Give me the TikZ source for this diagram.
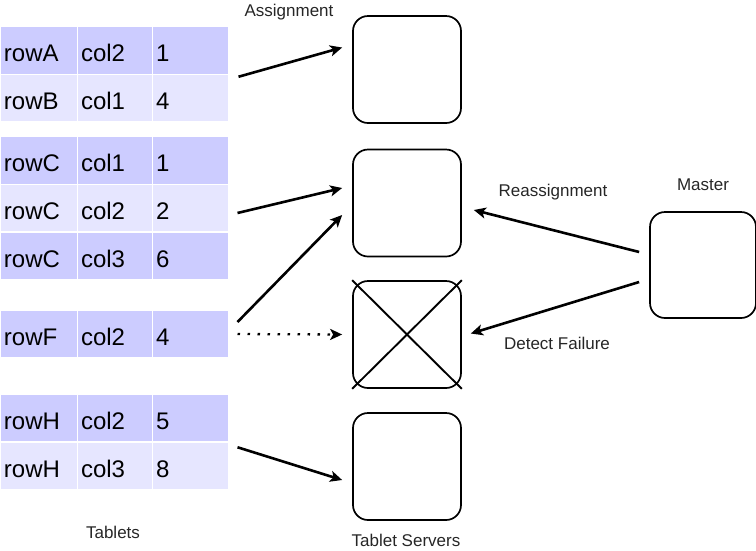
\documentclass[tikz,border=0pt]{standalone}
\usepackage{fontspec}
\setmainfont{Liberation Sans}
\usetikzlibrary{arrows.meta}
\definecolor{darkrow}{HTML}{CCCCFF}
\definecolor{lightrow}{HTML}{E6E6FF}
\begin{document}
\begin{tikzpicture}[x=1pt,y=-1pt,
    cell/.style={draw=white, line width=1pt, minimum height=47.5pt, inner xsep=4pt,
      text height=22pt, text depth=0pt, align=left, font=\fontsize{24}{28}\selectfont},
    keycell/.style={cell, text width=69pt},
    colcell/.style={cell, text width=67pt},
    valcell/.style={cell, text width=68pt},
    dk/.style={fill=darkrow},
    lt/.style={fill=lightrow},
    server/.style={draw, line width=1.7pt, rounded corners=15pt, minimum width=108pt, minimum height=107pt},
    lbl/.style={font=\fontsize{17}{20}\selectfont, text=black!85},
    conn/.style={line width=2.6pt, -{Stealth[length=12pt,width=11pt,inset=3pt]}}]
            \useasboundingbox (0,0) rectangle (756,550);
            % tablets
            \node [keycell,dk] (a1) at (38.5,50.5) {rowA};
            \node [colcell,dk] (a2) at (114.5,50.5) {col2};
            \node [valcell,dk] (a3) at (190,50.5) {1};
            \node [keycell,lt] (b1) at (38.5,98) {rowB};
            \node [colcell,lt] (b2) at (114.5,98) {col1};
            \node [valcell,lt] (b3) at (190,98) {4};
            \node [keycell,dk] (c1) at (38.5,160.5) {rowC};
            \node [colcell,dk] (c2) at (114.5,160.5) {col1};
            \node [valcell,dk] (c3) at (190,160.5) {1};
            \node [keycell,lt] (d1) at (38.5,208) {rowC};
            \node [colcell,lt] (d2) at (114.5,208) {col2};
            \node [valcell,lt] (d3) at (190,208) {2};
            \node [keycell,dk] (e1) at (38.5,256) {rowC};
            \node [colcell,dk] (e2) at (114.5,256) {col3};
            \node [valcell,dk] (e3) at (190,256) {6};
            \node [keycell,dk] (f1) at (38.5,334) {rowF};
            \node [colcell,dk] (f2) at (114.5,334) {col2};
            \node [valcell,dk] (f3) at (190,334) {4};
            \node [keycell,dk] (g1) at (38.5,418) {rowH};
            \node [colcell,dk] (g2) at (114.5,418) {col2};
            \node [valcell,dk] (g3) at (190,418) {5};
            \node [keycell,lt] (h1) at (38.5,466) {rowH};
            \node [colcell,lt] (h2) at (114.5,466) {col3};
            \node [valcell,lt] (h3) at (190,466) {8};
            % servers and master
            \node [server] (s1) at (407,69.5) {};
            \node [server] (s2) at (407,203) {};
            \node [server] (s3) at (407,334.5) {};
            \node [server] (s4) at (407,466.5) {};
            \node [server, minimum width=106pt, minimum height=106pt] (master) at (703,265) {};
            \draw [line width=1.9pt] (s3.north west) -- (s3.south east);
            \draw [line width=1.9pt] (s3.south west) -- (s3.north east);
            % labels
            \node [lbl] (asg) at (289,12) {Assignment};
            \node [lbl] (reasg) at (553,192) {Reassignment};
            \node [lbl] (fail) at (557,343) {Detect Failure};
            \node [lbl] (mlbl) at (703,185) {Master};
            \node [lbl] (tlbl) at (113,532) {Tablets};
            \node [lbl] (slbl) at (406,540) {Tablet Servers};
            % arrows
            \draw [conn] ([xshift=10pt,yshift=-3pt]b3.north east) -- ([xshift=-10pt,yshift=22pt]s1.west);
            \draw [conn] ([xshift=9pt,yshift=-5pt]d3.east) -- ([xshift=-10pt,yshift=15pt]s2.west);
            \draw [conn] ([xshift=9pt,yshift=12pt]f3.east) -- ([xshift=-10pt,yshift=-12pt]s2.west);
            \draw [conn, line width=2.3pt, dash pattern=on 2.5pt off 7.5pt] ([xshift=9pt]f3.east) -- ([xshift=-10pt]s3.west);
            \draw [conn] ([xshift=9pt,yshift=-5pt]g3.south east) -- ([xshift=-10pt,yshift=-13.5pt]s4.west);
            \draw [conn] ([xshift=-10pt,yshift=13pt]master.west) -- ([xshift=12pt,yshift=-7pt]s2.east);
            \draw [conn] ([xshift=-10pt,yshift=-17pt]master.west) -- ([xshift=9pt,yshift=1pt]s3.east);
\end{tikzpicture}
\end{document}
